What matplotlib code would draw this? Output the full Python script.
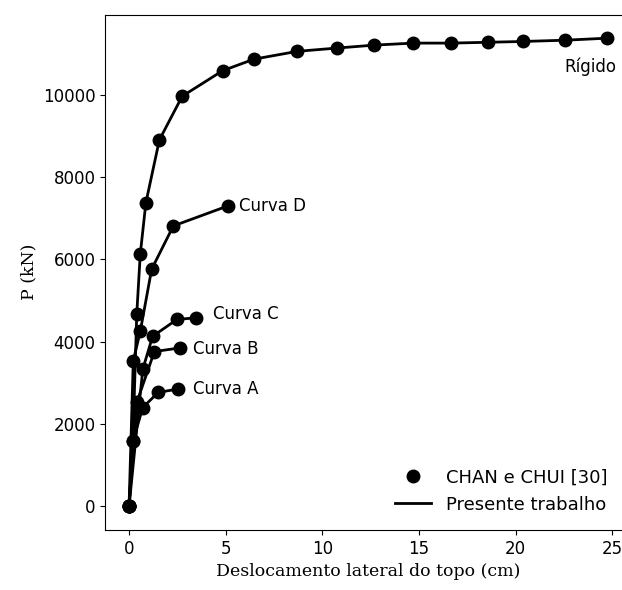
import matplotlib
matplotlib.use('Agg')
import matplotlib.pyplot as plt

# Deslocamento lateral (cm) e carga P (kN)
rig_x = [0, 0.2, 0.4, 0.58, 0.87, 1.57, 2.75, 4.84, 6.46, 8.70, 10.76, 12.65,
         14.69, 16.63, 18.59, 20.38, 22.53, 24.74]
rig_y = [0, 1580, 4680, 6120, 7370, 8900, 9960, 10580, 10860, 11050, 11130,
         11200, 11250, 11250, 11270, 11290, 11320, 11370]
d_x = [0, 0.22, 0.58, 1.17, 2.29, 5.13]
d_y = [0, 3540, 4250, 5760, 6810, 7300]
c_x = [0, 0.71, 1.22, 2.48, 3.46]
c_y = [0, 3330, 4130, 4540, 4580]
b_x = [0, 0.41, 1.31, 2.65]
b_y = [0, 2540, 3760, 3850]
a_x = [0, 0.2, 0.71, 1.51, 2.55]
a_y = [0, 1580, 2400, 2770, 2850]

curvas = [(rig_x, rig_y), (d_x, d_y), (c_x, c_y), (b_x, b_y), (a_x, a_y)]

fig = plt.figure(figsize=(6.22, 5.9), dpi=100)
ax = fig.add_axes([0.169, 0.102, 0.846, 0.873])

for i, (x, y) in enumerate(curvas):
    ax.plot(x, y, '-', color='black', linewidth=2,
            label='Presente trabalho' if i == 0 else None)
    ax.plot(x, y, 'o', color='black', markersize=9,
            label='CHAN e CHUI [30]' if i == 0 else None)

# Rótulos das curvas
ax.text(25.2, 10680, 'Rígido', ha='right', va='center', fontsize=12)
ax.text(5.68, 7290, 'Curva D', ha='left', va='center', fontsize=12)
ax.text(4.34, 4660, 'Curva C', ha='left', va='center', fontsize=12)
ax.text(3.31, 3830, 'Curva B', ha='left', va='center', fontsize=12)
ax.text(3.31, 2850, 'Curva A', ha='left', va='center', fontsize=12)

ax.set_xlabel('Deslocamento lateral do topo (cm)', family='DejaVu Serif', fontsize=12.5)
ax.set_ylabel('P (kN)', family='DejaVu Serif', fontsize=12.5)
ax.tick_params(labelsize=12)

h, l = ax.get_legend_handles_labels()
ax.legend([h[1], h[0]], [l[1], l[0]], loc='lower right', frameon=False,
          fontsize=13, bbox_to_anchor=(0.985, 0.0))

plt.savefig('out.png', dpi=100)
